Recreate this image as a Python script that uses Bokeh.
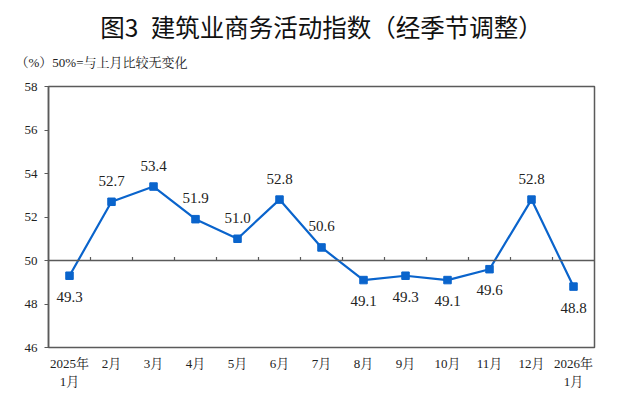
from bokeh.plotting import figure
from bokeh.models import (Range1d, LinearAxis, FixedTicker, ColumnDataSource,
                          LabelSet, Title, Span)
from bokeh.embed import file_html
from bokeh.resources import INLINE

# ---- data ----
months = ["2025年\n1月", "2月", "3月", "4月", "5月", "6月", "7月", "8月",
          "9月", "10月", "11月", "12月", "2026年\n1月"]
values = [49.3, 52.7, 53.4, 51.9, 51.0, 52.8, 50.6, 49.1, 49.3, 49.1, 49.6, 52.8, 48.8]
y_ticks = [46, 48, 50, 52, 54, 56, 58]
baseline = 50
title_text = "图3\u2002建筑业商务活动指数（经季节调整）"
note_text = "（%）50%=与上月比较无变化"

SERIF = "Liberation Serif, Noto Serif CJK SC, Noto Sans CJK SC"
BLUE = "#0a64cc"
AXIS = "#5a5a5a"

n = len(months)
xs = [i + 0.5 for i in range(n)]
bounds = list(range(1, n))
tick_len = 0.16  # short upward tick marks on the 50 line (data units)

p = figure(width=624, height=391, x_range=Range1d(0, n), y_range=Range1d(y_ticks[0], y_ticks[-1]),
           output_backend="svg", toolbar_location=None, x_axis_location=None,
           y_axis_location=None, title=None,
           min_border_left=48, min_border_right=30, min_border_bottom=30, min_border_top=86)
p.xgrid.grid_line_color = None
p.ygrid.grid_line_color = None
p.outline_line_color = AXIS
p.outline_line_width = 1.5
p.background_fill_color = "white"
p.border_fill_color = "white"

# y axis
yaxis = LinearAxis(ticker=FixedTicker(ticks=y_ticks))
yaxis.axis_line_color = AXIS
yaxis.axis_line_width = 1.5
yaxis.major_tick_line_color = AXIS
yaxis.major_tick_out = 4
yaxis.major_tick_in = 0
yaxis.minor_tick_line_color = None
yaxis.major_label_standoff = 7
yaxis.major_label_text_font = SERIF
yaxis.major_label_text_font_size = "13px"
yaxis.major_label_text_color = "#222222"
p.add_layout(yaxis, "left")

# x axis (labels at bottom)
xaxis = LinearAxis(ticker=FixedTicker(ticks=xs))
xaxis.major_label_overrides = {x: m for x, m in zip(xs, months)}
xaxis.axis_line_color = None
xaxis.major_tick_line_color = None
xaxis.minor_tick_line_color = None
xaxis.major_label_standoff = 2
xaxis.major_label_text_font = SERIF
xaxis.major_label_text_font_size = "13px"
xaxis.major_label_text_color = "#222222"
p.add_layout(xaxis, "below")

# 50% baseline with boundary ticks
p.add_layout(Span(location=baseline, dimension="width", line_color=AXIS, line_width=1.5))
p.segment(x0=bounds, x1=bounds, y0=[baseline] * len(bounds),
          y1=[baseline + tick_len] * len(bounds), line_color=AXIS, line_width=1.2)

# line + markers
src = ColumnDataSource(dict(
    x=xs, y=values,
    label=[f"{v:.1f}" for v in values],
    off=[21 if v >= baseline else -21 for v in values],
))
p.line("x", "y", source=src, line_color=BLUE, line_width=2.2)
p.scatter("x", "y", source=src, marker="square", size=7.5, fill_color=BLUE, line_color=BLUE)

labels = LabelSet(x="x", y="y", text="label", y_offset="off", source=src,
                  text_align="center", text_baseline="middle",
                  text_font=SERIF, text_font_size="15px", text_color="#222222")
p.add_layout(labels)

# titles (a blank spacer first, then the note, then the main title)
spacer = Title(text=" ", text_font_size="1px", standoff=10, text_color="white")
p.add_layout(spacer, "above")
note = Title(text=note_text, align="left", text_font=SERIF, text_font_size="13px",
             text_font_style="normal", text_color="#222222", standoff=8, offset=-33)
p.add_layout(note, "above")
main = Title(text=title_text, align="center", text_font="Noto Sans CJK SC",
             text_font_size="24.5px", text_font_style="normal", text_color="#111111",
             standoff=9, offset=2)
p.add_layout(main, "above")

open("out.html", "w").write(file_html(p, INLINE))
